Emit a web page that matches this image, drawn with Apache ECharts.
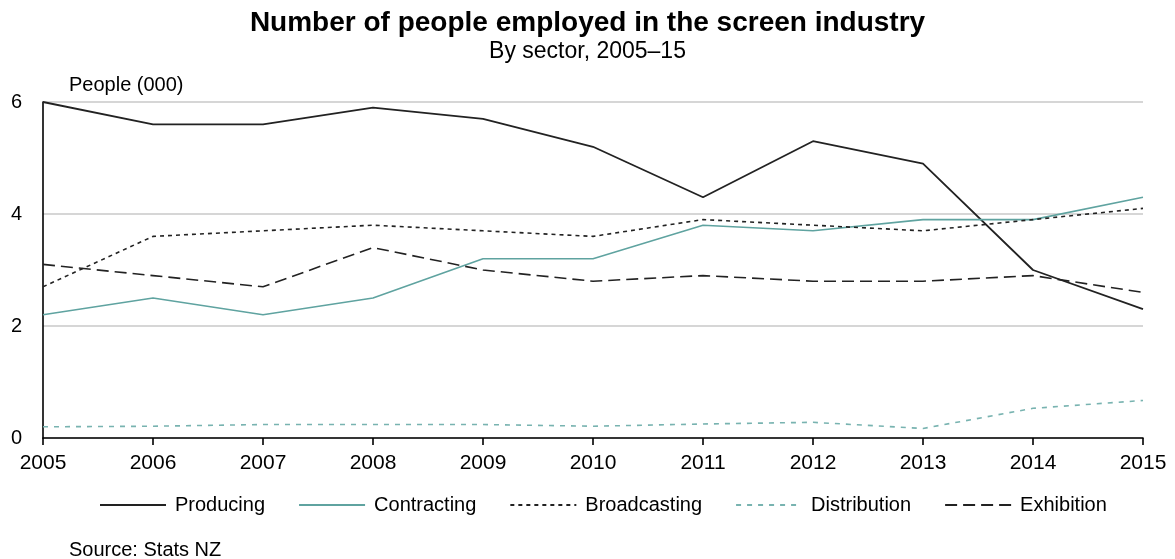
<!DOCTYPE html>
<html><head><meta charset="utf-8">
<script src="https://cdn.jsdelivr.net/npm/echarts@6/dist/echarts.min.js"></script>
<style>html,body{margin:0;padding:0;background:#fff}#c{width:1175px;height:559px}</style>
</head><body><div id="c"></div>
<script>
const years = ['2005','2006','2007','2008','2009','2010','2011','2012','2013','2014','2015'];
const seriesNames = ['Producing','Contracting','Broadcasting','Distribution','Exhibition'];
const producing = [6.0,5.6,5.6,5.9,5.7,5.2,4.3,5.3,4.9,3.0,2.3];
const contracting = [2.2,2.5,2.2,2.5,3.2,3.2,3.8,3.7,3.9,3.9,4.3];
const broadcasting = [2.7,3.6,3.7,3.8,3.7,3.6,3.9,3.8,3.7,3.9,4.1];
const distribution = [0.2,0.21,0.24,0.24,0.24,0.21,0.25,0.28,0.17,0.53,0.67];
const exhibition = [3.1,2.9,2.7,3.4,3.0,2.8,2.9,2.8,2.8,2.9,2.6];
const yTicks = [0,2,4,6];

const F = '"Liberation Sans", Arial, sans-serif';
const chart = echarts.init(document.getElementById('c'), null, {renderer:'canvas'});
function s(name, data, color, type, width){
  return {name, type:'line', data, symbol:'none', smooth:false,
    lineStyle:{color, width:width||1.6, type}, itemStyle:{color}};
}
chart.setOption({
  animation:false,
  textStyle:{fontFamily:F},
  title:[
    {text:'Number of people employed in the screen industry', left:'center', top:4,
     textStyle:{fontFamily:F,fontSize:28,fontWeight:'bold',color:'#000'}},
    {text:'By sector, 2005–15', left:'center', top:35,
     textStyle:{fontFamily:F,fontSize:23,fontWeight:'normal',color:'#000'}},
    {text:'People (000)', left:64, top:70, textStyle:{fontFamily:F,fontSize:20,fontWeight:'normal',color:'#000'}},
    {text:'Source: Stats NZ', left:64, top:535, textStyle:{fontFamily:F,fontSize:20,fontWeight:'normal',color:'#000'}}
  ],
  grid:{left:43, right:32, top:102, bottom:121, containLabel:false},
  legend:{top:490, left:94, itemWidth:66, itemHeight:12, itemGap:33,
    itemStyle:{color:'rgba(0,0,0,0)', borderWidth:0, opacity:0},
    textStyle:{fontFamily:F,fontSize:20,color:'#000',padding:[0,0,0,4]},
    data:seriesNames},
  xAxis:{type:'category', data:years, boundaryGap:false,
    axisLine:{lineStyle:{color:'#000',width:1.6}},
    axisTick:{show:true,length:7,lineStyle:{color:'#000',width:1.6}},
    axisLabel:{color:'#000',fontSize:21,margin:15,fontFamily:F}},
  yAxis:{type:'value', min:yTicks[0], max:yTicks[yTicks.length-1], interval:2,
    axisLine:{show:true,lineStyle:{color:'#000',width:1.6}},
    axisTick:{show:false},
    splitLine:{lineStyle:{color:'#c8c8c8',width:1.5}},
    axisLabel:{color:'#000',fontSize:20,margin:21,fontFamily:F}},
  series:[
    s('Producing', producing, '#222', 'solid', 1.8),
    s('Contracting', contracting, '#5fa3a0', 'solid'),
    s('Broadcasting', broadcasting, '#222', [4,4]),
    s('Distribution', distribution, '#78b3b0', [5,6]),
    s('Exhibition', exhibition, '#222', [12,6])
  ]
});
</script></body></html>
